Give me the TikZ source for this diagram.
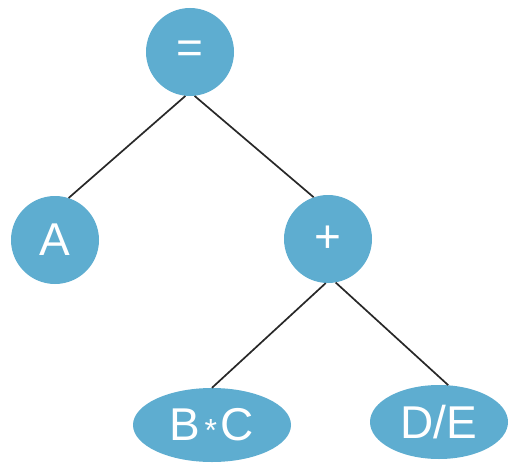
\documentclass[tikz,border=0pt]{standalone}
\usepackage{fontspec}
\setmainfont{Liberation Sans}
\usetikzlibrary{shapes.geometric}
\definecolor{nodeblue}{RGB}{94,173,208}
\definecolor{edgegray}{RGB}{40,40,40}
\newcommand{\midstar}{\hspace{4pt}\raisebox{-1pt}{\fontsize{32}{32}\selectfont *}\hspace{4pt}}
\tikzset{
  treenode/.style={fill=nodeblue, draw=none, text=white, inner sep=0pt,
    font=\fontsize{46}{46}\selectfont},
  roundnode/.style={treenode, circle, minimum size=88pt},
  ovalnode/.style={treenode, ellipse, minimum width=158pt, minimum height=74pt},
  edge/.style={draw=edgegray, line width=1.7pt}
}
\begin{document}
\begin{tikzpicture}[x=1pt,y=-1pt]
\useasboundingbox (0,0) rectangle (510,462);
\node[roundnode] (eq) at (190,52) {=};
\node[roundnode] (a) at (55,240) {A};
\node[roundnode] (plus) at (328,239) {+};
\node[ovalnode] (bc) at (212,425) {B\midstar C};
\node[ovalnode, minimum width=138pt] (de) at (439,422) {D/E};
\draw[edge] (eq.-96) -- (a.72);
\draw[edge] (eq.-84) -- (plus.109);
\draw[edge] (plus.-93) -- (bc.90);
\draw[edge] (plus.-80) -- (de.76);
\end{tikzpicture}
\end{document}
